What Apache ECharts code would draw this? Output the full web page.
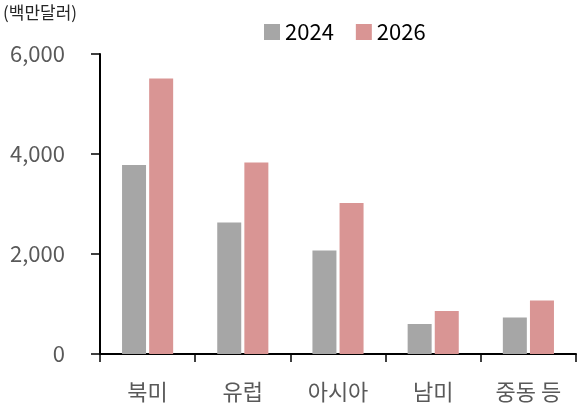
<!DOCTYPE html>
<html><head><meta charset="utf-8">
<script src="https://cdn.jsdelivr.net/npm/echarts@6/dist/echarts.min.js"></script>
<style>html,body{margin:0;padding:0;background:#fff}#c{width:577px;height:410px}</style>
</head><body><div id="c"></div>
<script>
const categories = ['북미', '유럽', '아시아', '남미', '중동 등'];
const seriesNames = ['2024', '2026'];
const values2024 = [3780, 2630, 2070, 600, 730];
const values2026 = [5510, 3830, 3020, 860, 1070];
const yTicks = [0, 2000, 4000, 6000];
const unitLabel = '(백만달러)';

const FONT = '"Noto Sans CJK KR", "Noto Sans", sans-serif';
const chart = echarts.init(document.getElementById('c'), null, {renderer: 'canvas'});
chart.setOption({
  animation: false,
  backgroundColor: '#fff',
  textStyle: {fontFamily: FONT},
  graphic: [{type: 'text', left: 3, top: 4, style: {text: unitLabel, font: '17px ' + FONT, fill: '#262626'}}],
  legend: {
    data: seriesNames, top: 16, left: 259, itemWidth: 16, itemHeight: 16, itemGap: 22,
    textStyle: {fontSize: 22, color: '#000', fontFamily: FONT}, icon: 'rect'
  },
  grid: {left: 100, right: 1, top: 54, bottom: 56, containLabel: false},
  xAxis: {
    type: 'category', data: categories,
    axisLine: {lineStyle: {color: '#000', width: 2}},
    axisTick: {show: true, length: 8, lineStyle: {color: '#000', width: 1.5}},
    axisLabel: {fontSize: 22, color: '#595959', margin: 27, fontFamily: FONT}
  },
  yAxis: {
    type: 'value', min: yTicks[0], max: yTicks[yTicks.length - 1], interval: 2000,
    axisLine: {show: true, lineStyle: {color: '#000', width: 2}},
    axisTick: {show: true, length: 9, lineStyle: {color: '#000', width: 1.5}},
    splitLine: {show: false},
    axisLabel: {fontSize: 22, color: '#595959', margin: 35, fontFamily: FONT,
      formatter: v => v.toLocaleString('en-US')}
  },
  series: [
    {name: seriesNames[0], type: 'bar', data: values2024, barWidth: 24, barGap: '13%',
     itemStyle: {color: '#a6a6a6'}},
    {name: seriesNames[1], type: 'bar', data: values2026, barWidth: 24,
     itemStyle: {color: '#d99594'}}
  ]
});
</script></body></html>
